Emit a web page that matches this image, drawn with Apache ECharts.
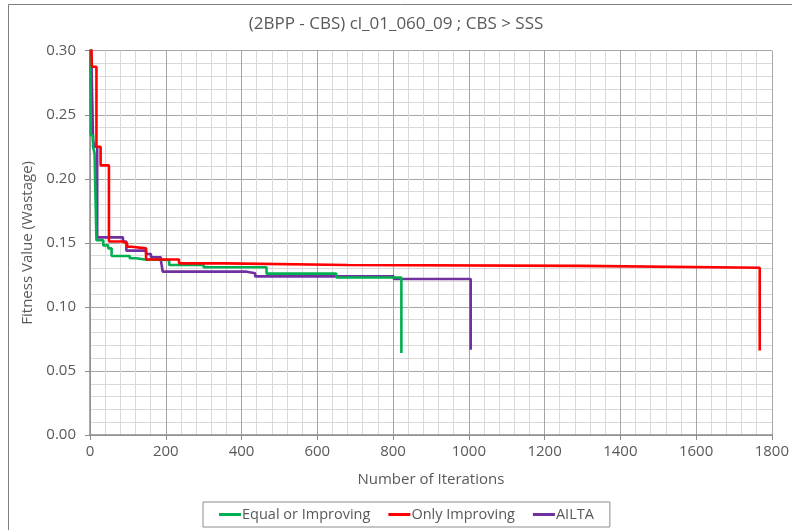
<!DOCTYPE html>
<html>
<head>
<meta charset="utf-8">
<script src="https://cdn.jsdelivr.net/npm/echarts@6/dist/echarts.min.js"></script>
<style>
  html, body { margin: 0; padding: 0; background: #fff; }
  #chart { width: 792px; height: 530px; }
</style>
</head>
<body>
<div id="chart"></div>
<script>
// Best fitness (wastage) per iteration for three acceptance strategies.
// Each pair is [iteration where the value starts, fitness value].
const equalOrImproving = [
  [0, 0.34], [2, 0.234], [8, 0.225], [12, 0.22], [17, 0.152], [35, 0.148],
  [48, 0.1457], [57, 0.1397], [105, 0.138], [122, 0.137], [144, 0.1366],
  [209, 0.1327], [300, 0.131], [466, 0.126], [650, 0.123], [822, 0.064]
];
const onlyImproving = [
  [0, 0.34], [5, 0.2875], [17, 0.225], [28, 0.2105], [50, 0.151], [88, 0.1495],
  [98, 0.147], [110, 0.1457], [148, 0.137], [235, 0.134], [357, 0.1327],
  [680, 0.132], [1295, 0.1306], [1768, 0.066]
];
const ailta = [
  [0, 0.34], [4, 0.29], [8, 0.23], [12, 0.225], [19, 0.1543], [87, 0.151],
  [96, 0.1439], [148, 0.1413], [161, 0.1387], [187, 0.1366], [192, 0.1275],
  [414, 0.1262], [436, 0.1238], [802, 0.1218], [1005, 0.0665]
];
const seriesNames = ['Equal or Improving', 'Only Improving', 'AILTA'];
const seriesColors = ['#00b050', '#ff0000', '#7030a0'];

const titleText = '(2BPP - CBS) cl_01_060_09 ; CBS > SSS';
const xTitle = 'Number of Iterations';
const yTitle = 'Fitness Value (Wastage)';

const FONT = '"Open Sans", "Noto Sans", sans-serif';
const TEXT = '#595959';
const MAJOR = '#a6a6a6';
const MINOR = '#d9d9d9';

const chart = echarts.init(document.getElementById('chart'), null, { renderer: 'canvas' });

function stepSeries(name, data, color, z) {
  return {
    name: name,
    type: 'line',
    step: 'end',
    data: data,
    symbol: 'none',
    z: z,
    lineStyle: { color: color, width: 2.6 },
    itemStyle: { color: color },
    clip: true
  };
}

chart.setOption({
  animation: false,
  backgroundColor: '#fff',
  graphic: [{
    type: 'rect',
    shape: { x: 8.5, y: 4.5, width: 800, height: 540 },
    style: { fill: 'none', stroke: '#7f7f7f', lineWidth: 1 },
    silent: true
  }],
  title: {
    text: titleText,
    left: 'center',
    top: 11,
    textStyle: { fontFamily: FONT, fontSize: 17, fontWeight: 'normal', color: TEXT }
  },
  grid: { left: 90, top: 50.7, right: 14.3, bottom: 95, containLabel: false },
  legend: {
    data: seriesNames,
    left: 203,
    top: 502,
    padding: [5, 16, 5, 16],
    borderColor: '#8c8c8c',
    borderWidth: 1,
    itemGap: 18,
    itemWidth: 22,
    itemHeight: 3,
    icon: 'rect',
    textStyle: { fontFamily: FONT, fontSize: 14.5, color: TEXT, padding: [0, 0, 0, -4] }
  },
  xAxis: {
    type: 'value',
    min: 0,
    max: 1800,
    interval: 200,
    name: xTitle,
    nameLocation: 'middle',
    nameGap: 37,
    nameTextStyle: { fontFamily: FONT, fontSize: 15, color: TEXT },
    axisLine: { show: true, onZero: false, lineStyle: { color: '#8c8c8c', width: 1.5 } },
    axisTick: { show: true, length: 5, lineStyle: { color: '#8c8c8c' } },
    axisLabel: {
      fontFamily: FONT, fontSize: 15, color: TEXT, margin: 9,
      formatter: v => String(v)
    },
    splitLine: { show: true, lineStyle: { color: MAJOR, width: 1 } },
    minorTick: { show: false, splitNumber: 5 },
    minorSplitLine: { show: true, lineStyle: { color: MINOR, width: 1 } }
  },
  yAxis: {
    type: 'value',
    min: 0,
    max: 0.30,
    interval: 0.05,
    name: yTitle,
    nameLocation: 'middle',
    nameGap: 47,
    nameTextStyle: { fontFamily: FONT, fontSize: 15, color: TEXT },
    axisLine: { show: true, lineStyle: { color: '#8c8c8c', width: 1.5 } },
    axisTick: { show: true, length: 5, lineStyle: { color: '#8c8c8c' } },
    axisLabel: {
      fontFamily: FONT, fontSize: 15, color: TEXT, margin: 14,
      formatter: v => v.toFixed(2)
    },
    splitLine: { show: true, lineStyle: { color: MAJOR, width: 1 } },
    minorTick: { show: false, splitNumber: 5 },
    minorSplitLine: { show: true, lineStyle: { color: MINOR, width: 1 } }
  },
  series: [
    stepSeries(seriesNames[0], equalOrImproving, seriesColors[0], 3),
    stepSeries(seriesNames[1], onlyImproving, seriesColors[1], 4),
    stepSeries(seriesNames[2], ailta, seriesColors[2], 2)
  ]
});
</script>
</body>
</html>
